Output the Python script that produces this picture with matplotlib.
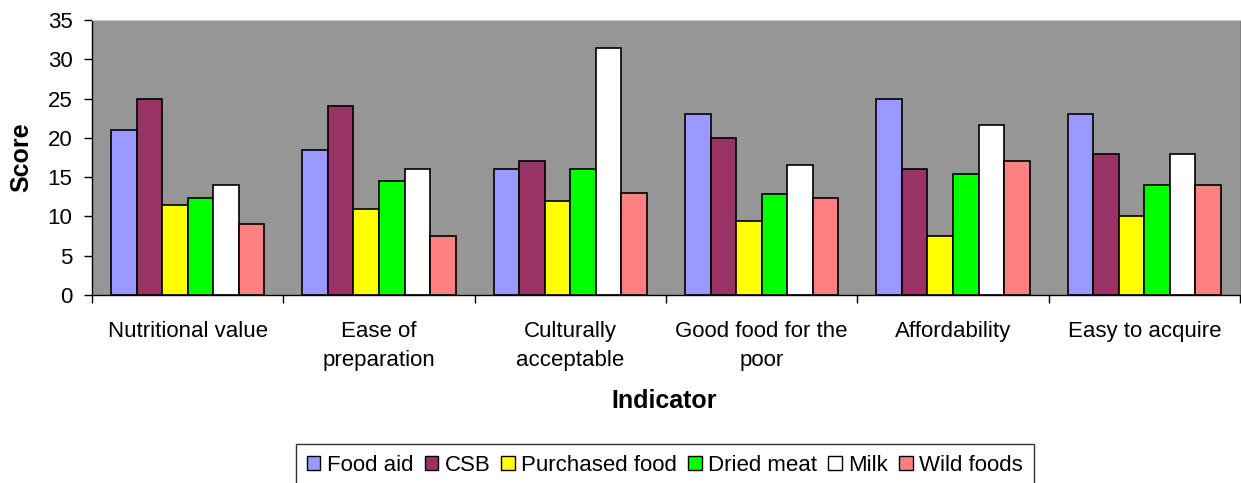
import matplotlib
matplotlib.use("Agg")
import matplotlib.pyplot as plt
import numpy as np
from matplotlib.patches import Patch

indicators = [
    "Nutritional value",
    "Ease of\npreparation",
    "Culturally\nacceptable",
    "Good food for the\npoor",
    "Affordability",
    "Easy to acquire",
]
food_aid = [21, 18.5, 16, 23, 25, 23]
csb = [25, 24, 17, 20, 16, 18]
purchased_food = [11.5, 11, 12, 9.4, 7.5, 10]
dried_meat = [12.4, 14.5, 16, 12.9, 15.4, 14]
milk = [14, 16, 31.4, 16.5, 21.6, 18]
wild_foods = [9, 7.5, 13, 12.4, 17, 14]

series = [
    ("Food aid", food_aid, "#9999FF"),
    ("CSB", csb, "#993366"),
    ("Purchased food", purchased_food, "#FFFF00"),
    ("Dried meat", dried_meat, "#00FF00"),
    ("Milk", milk, "#FFFFFF"),
    ("Wild foods", wild_foods, "#FF8080"),
]

plt.rcParams["font.family"] = ["Liberation Sans", "DejaVu Sans"]

fig = plt.figure(figsize=(12.41, 4.83), dpi=100)
ax = fig.add_axes([92 / 1241, 1 - 295 / 483, 1148 / 1241, 275 / 483])
ax.set_facecolor("#969696")

x = np.arange(len(indicators))
width = 0.8 / len(series)
for i, (name, vals, color) in enumerate(series):
    offset = (i - (len(series) - 1) / 2) * width
    ax.bar(x + offset, vals, width, color=color, edgecolor="black",
           linewidth=1.2, label=name, zorder=2)

ax.set_xlim(-0.5, len(indicators) - 0.5)
ax.set_ylim(0, 35)
ax.set_yticks(np.arange(0, 36, 5))

# category separators as major ticks, labels on minor ticks at the centres
ax.set_xticks(np.arange(-0.5, len(indicators), 1.0))
ax.set_xticklabels([])
ax.set_xticks(x, minor=True)
ax.set_xticklabels(indicators, minor=True, fontsize=16, linespacing=1.5)
ax.tick_params(axis="x", which="major", direction="out", length=6, width=1, color="black")
ax.tick_params(axis="x", which="minor", length=0, pad=19)
ax.tick_params(axis="y", direction="out", length=6, width=1, pad=8, labelsize=16)

for side in ("left", "bottom"):
    ax.spines[side].set_color("black")
    ax.spines[side].set_linewidth(1)
ax.spines["top"].set_color("#c8c8c8")
ax.spines["right"].set_color("#808080")

fig.text(21 / 1241, 1 - 157 / 483, "Score", rotation=90, ha="center", va="center",
         fontsize=18, fontweight="bold")
fig.text(664 / 1241, 1 - 401 / 483, "Indicator", ha="center", va="center",
         fontsize=18, fontweight="bold")

handles = [Patch(facecolor=c, edgecolor="black", linewidth=1, label=n) for n, _, c in series]
leg = fig.legend(handles=handles, loc="upper center", bbox_to_anchor=(665 / 1241, 1 - 444 / 483),
                 ncol=len(series), fontsize=16, frameon=True, fancybox=False,
                 handlelength=0.6, handleheight=0.6, handletextpad=0.3, columnspacing=0.5,
                 borderpad=0.5, borderaxespad=0)
leg.get_frame().set_edgecolor("black")
leg.get_frame().set_linewidth(1)

fig.savefig("out.png", dpi=100)
